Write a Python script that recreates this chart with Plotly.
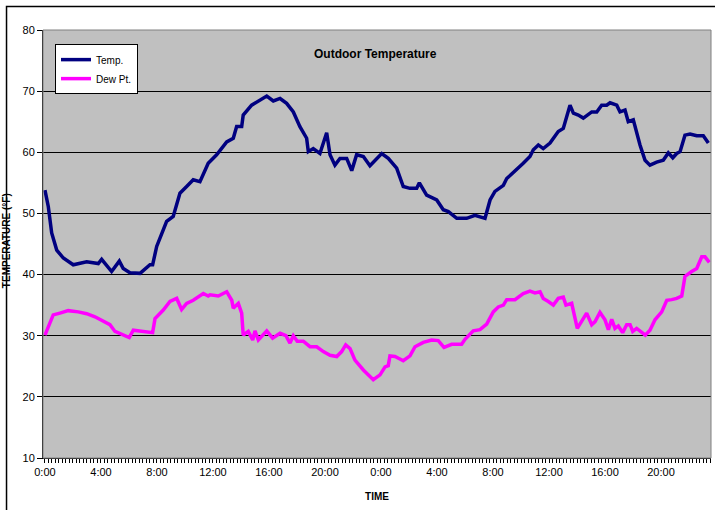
import plotly.graph_objects as go

# ---- data (hours since start of day 1, values in °F) ----
temp_hours = [0, 0.24, 0.48, 0.84, 1.31, 2.02, 2.98, 3.81, 4.05, 4.76, 5.31, 5.59, 6.07, 6.79,
              7.5, 7.69, 7.98, 8.69, 9.16, 9.64, 10.12, 10.59, 11.07, 11.66, 12.26, 12.98,
              13.45, 13.69, 14.05, 14.16, 14.76, 15.24, 15.84, 16.31, 16.79, 17.26, 17.74,
              18.21, 18.69, 18.81, 19.16, 19.64, 20.12, 20.36, 20.71, 21.07, 21.55, 21.91,
              22.26, 22.74, 23.21, 24.05, 24.52, 25.12, 25.59, 26.07, 26.55, 26.74, 27.26,
              27.98, 28.45, 28.81, 29.41, 30.12, 30.71, 31.43, 31.79, 32.14, 32.74, 32.98,
              33.69, 34.16, 34.64, 34.88, 35.24, 35.59, 36.07, 36.66, 37.02, 37.5, 37.74,
              38.09, 38.45, 39.05, 39.41, 39.76, 40.12, 40.36, 40.84, 41.07, 41.43, 41.66,
              42.02, 42.26, 42.5, 42.86, 43.21, 43.69, 44.16, 44.52, 44.84, 45.12, 45.36,
              45.71, 46.07, 46.55, 47.02, 47.38]
temp_values = [53.8, 51.1, 46.8, 44.0, 42.7, 41.6, 42.1, 41.8, 42.5, 40.5, 42.2, 41.0, 40.3, 40.2,
               41.6, 41.6, 44.6, 48.7, 49.5, 53.3, 54.4, 55.5, 55.2, 58.2, 59.6, 61.7,
               62.3, 64.2, 64.2, 66.1, 67.7, 68.3, 69.2, 68.4, 68.8, 68.0, 66.6,
               64.2, 62.3, 60.1, 60.6, 59.8, 63.2, 59.6, 57.9, 59.0, 59.0, 57.0,
               59.6, 59.3, 57.8, 59.8, 59.0, 57.4, 54.4, 54.1, 54.1, 55.0, 53.0,
               52.2, 50.6, 50.3, 49.2, 49.2, 49.7, 49.2, 52.2, 53.6, 54.6, 55.7,
               57.1, 58.2, 59.3, 60.4, 61.2, 60.6, 61.5, 63.4, 63.9, 67.7, 66.4,
               66.1, 65.6, 66.6, 66.6, 67.7, 67.7, 68.1, 67.7, 66.6, 66.9, 65.0,
               65.3, 63.1, 61.2, 58.7, 57.9, 58.4, 58.7, 59.9, 59.1, 59.8, 60.1,
               62.8, 63.0, 62.7, 62.7, 61.5]

dew_hours = [0, 0.24, 0.59, 1.07, 1.66, 2.38, 2.98, 3.57, 4.16, 4.64, 5.0, 5.48, 6.02, 6.31,
             7.02, 7.69, 7.86, 8.45, 8.93, 9.41, 9.76, 10.12, 10.59, 11.31, 11.66, 11.79,
             12.38, 12.98, 13.34, 13.45, 13.81, 14.05, 14.16, 14.52, 14.84, 15.0, 15.24,
             15.84, 16.26, 16.79, 17.21, 17.5, 17.74, 18.02, 18.45, 18.93, 19.41, 19.88,
             20.36, 20.84, 21.19, 21.48, 21.79, 22.14, 22.74, 23.34, 23.45, 23.93, 24.29,
             24.52, 24.64, 25.0, 25.59, 26.07, 26.43, 27.02, 27.62, 28.09, 28.5, 29.05,
             29.76, 30.0, 30.59, 31.07, 31.55, 32.02, 32.38, 32.74, 32.98, 33.57, 34.16,
             34.64, 35.0, 35.36, 35.59, 35.95, 36.31, 36.66, 37.02, 37.21, 37.62, 38.02,
             38.34, 38.69, 39.05, 39.29, 39.64, 40.0, 40.24, 40.48, 40.71, 40.95, 41.26,
             41.55, 41.79, 41.98, 42.26, 42.5, 42.88, 43.21, 43.57, 44.05, 44.41, 44.76,
             45.12, 45.48, 45.71, 46.19, 46.55, 46.91, 47.14, 47.45]
dew_values = [30.1, 31.5, 33.4, 33.7, 34.1, 33.9, 33.6, 33.1, 32.3, 31.8, 30.7, 30.2, 29.7, 30.9,
              30.7, 30.5, 32.8, 34.2, 35.6, 36.1, 34.3, 35.3, 35.8, 36.9, 36.5, 36.7,
              36.5, 37.2, 35.8, 34.5, 35.3, 33.7, 30.1, 30.7, 29.3, 30.8, 29.3,
              30.8, 29.6, 30.4, 30.0, 28.8, 30.0, 29.1, 29.1, 28.2, 28.2, 27.4,
              26.8, 26.6, 27.4, 28.5, 27.9, 26.0, 24.4, 23.1, 22.8, 23.6, 24.9,
              25.1, 26.7, 26.6, 25.9, 26.7, 28.2, 28.9, 29.3, 29.2, 28.1, 28.6,
              28.6, 29.4, 30.8, 31.0, 31.9, 33.9, 34.7, 35.0, 35.9, 35.9, 36.9,
              37.3, 37.0, 37.2, 36.1, 35.6, 35.0, 36.1, 36.3, 35.0, 35.3, 31.2,
              32.3, 33.7, 31.8, 32.3, 33.8, 32.6, 31.0, 32.7, 31.2, 31.6, 30.5,
              31.8, 31.8, 30.7, 31.2, 30.7, 30.1, 30.9, 32.6, 33.9, 35.8, 35.9,
              36.1, 36.5, 39.7, 40.5, 41.0, 42.9, 42.9, 42.0]

tick_hours = [0, 4, 8, 12, 16, 20, 24, 28, 32, 36, 40, 44]
tick_labels = ["0:00", "4:00", "8:00", "12:00", "16:00", "20:00",
               "0:00", "4:00", "8:00", "12:00", "16:00", "20:00"]
y_ticks = [10, 20, 30, 40, 50, 60, 70, 80]

FONT = "Liberation Sans, Arial, sans-serif"

fig = go.Figure()
fig.add_trace(go.Scatter(x=temp_hours, y=temp_values, mode="lines", name="Temp.",
                         line=dict(color="#000080", width=3.5)))
fig.add_trace(go.Scatter(x=dew_hours, y=dew_values, mode="lines", name="Dew Pt.",
                         line=dict(color="#FF00FF", width=3.5)))

fig.update_layout(
    width=715, height=510,
    margin=dict(l=43, r=4, t=30, b=52),
    paper_bgcolor="white",
    plot_bgcolor="#C0C0C0",
    font=dict(family=FONT, size=11, color="black"),
    showlegend=True,
    legend=dict(x=0.018, y=0.967, xanchor="left", yanchor="top",
                bgcolor="white", bordercolor="black", borderwidth=1,
                font=dict(family=FONT, size=10, color="black"),
                itemwidth=30, tracegroupgap=0),
    xaxis=dict(range=[-0.14, 47.57], tickmode="array", tickvals=tick_hours,
               ticktext=tick_labels, showgrid=False, zeroline=False,
               showline=True, linecolor="black", linewidth=1,
               ticks="outside", ticklen=4, tickcolor="black",
               tickfont=dict(family=FONT, size=11, color="black"),
               minor=dict(tickmode="linear", tick0=0, dtick=0.25, ticks="outside",
                          ticklen=4, tickcolor="black", showgrid=False),
               title=dict(text="<b>TIME</b>", font=dict(family=FONT, size=10, color="black"),
                          standoff=15)),
    yaxis=dict(range=[10, 80], tickmode="array", tickvals=y_ticks,
               showgrid=True, gridcolor="black", gridwidth=1, zeroline=False,
               showline=True, linecolor="black", linewidth=1,
               ticks="outside", ticklen=5, tickcolor="black",
               tickfont=dict(family=FONT, size=11, color="black")),
    shapes=[
        dict(type="rect", xref="paper", yref="paper", x0=0, x1=1, y0=0, y1=1,
             line=dict(color="#808080", width=1), fillcolor="rgba(0,0,0,0)", layer="above"),
        dict(type="rect", xref="paper", yref="paper", x0=-0.0546, x1=1.3, y0=-0.4, y1=1.0549,
             line=dict(color="black", width=1.5), fillcolor="rgba(0,0,0,0)", layer="above"),
    ],
    annotations=[
        dict(text="<b>Outdoor Temperature</b>", xref="paper", yref="paper",
             x=0.4985, y=0.944, xanchor="center", yanchor="middle", showarrow=False,
             font=dict(family=FONT, size=12, color="black")),
        dict(text="<b>TEMPERATURE (°F)</b>", xref="paper", yref="paper",
             x=-0.0554, y=0.509, xanchor="center", yanchor="middle", showarrow=False,
             textangle=-90, font=dict(family=FONT, size=10, color="black")),
    ],
)

fig.write_html("out.html", config={"displayModeBar": False},
               post_script="document.body.style.margin='0px';")
